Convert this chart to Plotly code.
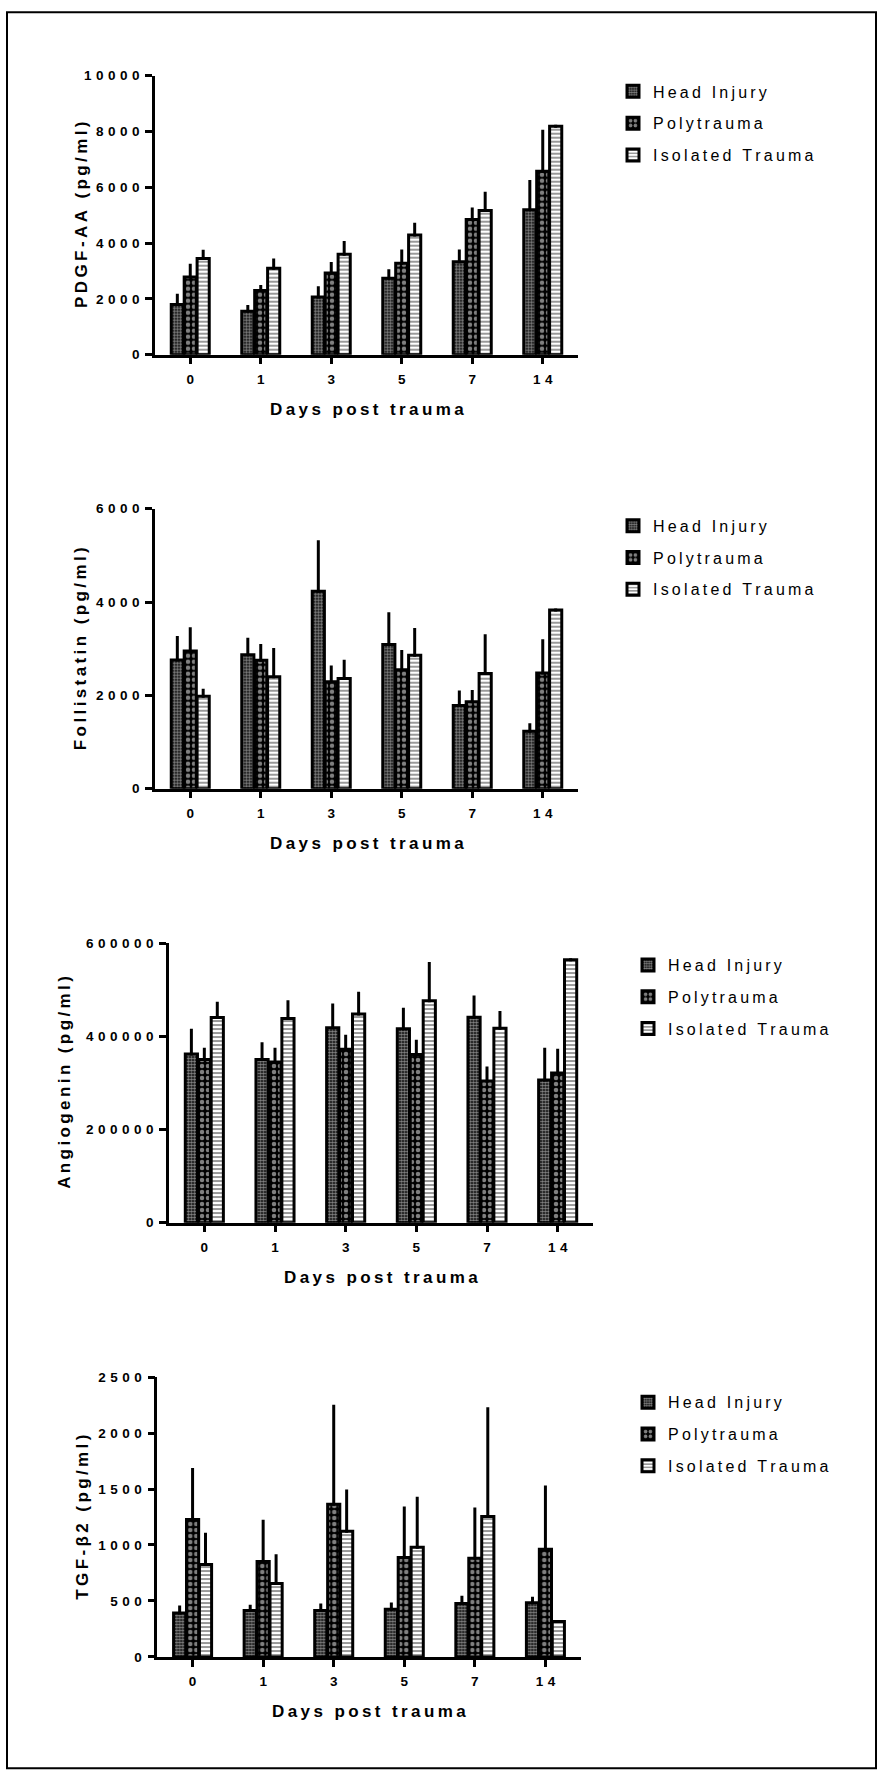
import plotly.graph_objects as go

W, H = 878, 1778

days = ["0", "1", "3", "5", "7", "14"]
series = ["Head Injury", "Polytrauma", "Isolated Trauma"]

# PDGF-AA (pg/ml)
pdgf_hi = [1800, 1560, 2070, 2740, 3330, 5200]
pdgf_hi_err = [330, 170, 330, 270, 390, 1010]
pdgf_pt = [2790, 2300, 2930, 3280, 4850, 6580]
pdgf_pt_err = [415, 150, 340, 440, 370, 1430]
pdgf_it = [3450, 3100, 3600, 4290, 5170, 8190]
pdgf_it_err = [260, 300, 420, 390, 620, 0]
pdgf_ticks = [0, 2000, 4000, 6000, 8000, 10000]

# Follistatin (pg/ml)
foll_hi = [2760, 2870, 4230, 3090, 1780, 1230]
foll_hi_err = [480, 330, 1060, 660, 290, 140]
foll_pt = [2950, 2750, 2290, 2550, 1860, 2480]
foll_pt_err = [480, 320, 320, 390, 220, 690]
foll_it = [1980, 2400, 2360, 2860, 2470, 3830]
foll_it_err = [130, 580, 370, 550, 810, 0]
foll_ticks = [0, 2000, 4000, 6000]

# Angiogenin (pg/ml)
ang_hi = [362000, 350000, 418000, 416000, 441000, 306000]
ang_hi_err = [51000, 34000, 49000, 42000, 43000, 66000]
ang_pt = [350000, 345000, 372000, 361000, 304000, 321000]
ang_pt_err = [22000, 27000, 28000, 28000, 28000, 49000]
ang_it = [440000, 438000, 448000, 476000, 417000, 564000]
ang_it_err = [31000, 36000, 44000, 80000, 34000, 0]
ang_ticks = [0, 200000, 400000, 600000]

# TGF-beta2 (pg/ml)
tgf_hi = [393, 416, 416, 425, 478, 484]
tgf_hi_err = [53, 38, 47, 47, 56, 41]
tgf_pt = [1228, 853, 1364, 888, 882, 962]
tgf_pt_err = [446, 360, 876, 443, 440, 555]
tgf_it = [826, 655, 1122, 980, 1254, 316]
tgf_it_err = [269, 248, 360, 437, 962, 0]
tgf_ticks = [0, 500, 1000, 1500, 2000, 2500]

y_titles = ["PDGF-AA (pg/ml)", "Follistatin (pg/ml)", "Angiogenin (pg/ml)", "TGF-\u03b22 (pg/ml)"]
x_title = "Days post trauma"

panels_data = [
    ([pdgf_hi, pdgf_pt, pdgf_it], [pdgf_hi_err, pdgf_pt_err, pdgf_it_err], pdgf_ticks),
    ([foll_hi, foll_pt, foll_it], [foll_hi_err, foll_pt_err, foll_it_err], foll_ticks),
    ([ang_hi, ang_pt, ang_it], [ang_hi_err, ang_pt_err, ang_it_err], ang_ticks),
    ([tgf_hi, tgf_pt, tgf_it], [tgf_hi_err, tgf_pt_err, tgf_it_err], tgf_ticks),
]

# layout geometry in pixels: x0, x1, y_top, y_zero, y-title x, legend left, legend top
geom = [
    dict(x0=155, x1=578, top=69.3, zero=350.7, ytx=81.7, lx=613, ly=68),
    dict(x0=155, x1=578, top=506, zero=788.3, ytx=80.5, lx=613, ly=506),
    dict(x0=169, x1=593, top=944, zero=1226, ytx=65, lx=628, ly=949),
    dict(x0=157.3, x1=580.7, top=1381.7, zero=1664, ytx=81.7, lx=628, ly=1390),
]

patterns = [
    dict(shape=".", size=3, solidity=0.65, fgcolor="white", bgcolor="black"),
    dict(shape=".", size=6, solidity=0.45, fgcolor="white", bgcolor="black"),
    dict(shape="-", size=4, solidity=0.4, fgcolor="black", bgcolor="white"),
]

FONT = "Liberation Sans, Arial, sans-serif"


def spaced(s, sep="\u2009"):
    return sep.join(s)


fig = go.Figure()
layout = {}
annotations = []

for i, ((vals, errs, ticks), g) in enumerate(zip(panels_data, geom)):
    n = i + 1
    xa = "x" if n == 1 else f"x{n}"
    ya = "y" if n == 1 else f"y{n}"
    lg = "legend" if n == 1 else f"legend{n}"
    for s, (name, v, e, pat) in enumerate(zip(series, vals, errs, patterns)):
        fig.add_trace(go.Bar(
            x=days, y=v, name=spaced(name),
            xaxis=xa, yaxis=ya, legend=lg, legendgroup=f"p{n}s{s}",
            marker=dict(color="white", line=dict(color="black", width=3), pattern=pat),
            error_y=dict(type="data", symmetric=False, array=e, arrayminus=[0] * len(e),
                         color="black", thickness=3, width=1.5),
        ))
    xdom = [g["x0"] / W, g["x1"] / W]
    ydom = [1 - g["zero"] / H, 1 - g["top"] / H]
    axis_common = dict(showline=True, linecolor="black", linewidth=2.5, ticks="outside",
                       ticklen=7, tickwidth=2.5, tickcolor="black", showgrid=False,
                       zeroline=False, fixedrange=True,
                       tickfont=dict(family=FONT, size=13.5, color="black", weight="bold"))
    layout["xaxis" if n == 1 else f"xaxis{n}"] = dict(
        axis_common, domain=xdom, anchor=ya, type="category", range=[-0.5, 5.5],
        tickvals=days, ticktext=[spaced(d, "\u2004") for d in days], ticklabelstandoff=3)
    layout["yaxis" if n == 1 else f"yaxis{n}"] = dict(
        axis_common, domain=ydom, anchor=xa, range=[ticks[0], ticks[-1]],
        tickvals=ticks, ticktext=[spaced(str(t), "\u2004") for t in ticks], ticklabelstandoff=3)
    layout[lg] = dict(x=g["lx"] / W, y=1 - g["ly"] / H, xanchor="left", yanchor="top",
                      font=dict(family=FONT, size=16, color="black"),
                      bgcolor="rgba(0,0,0,0)", tracegroupgap=8, itemclick=False,
                      itemdoubleclick=False)
    annotations.append(dict(text=spaced(y_titles[i]), textangle=-90, xref="paper", yref="paper",
                            x=g["ytx"] / W, y=1 - (g["top"] + g["zero"]) / 2 / H,
                            xanchor="center", yanchor="middle", showarrow=False,
                            font=dict(family=FONT, size=17, color="black", weight="bold")))
    annotations.append(dict(text=spaced(x_title), xref="paper", yref="paper",
                            x=(g["x0"] + g["x1"]) / 2 / W, y=1 - (g["zero"] + 55) / H,
                            xanchor="center", yanchor="middle", showarrow=False,
                            font=dict(family=FONT, size=17, color="black", weight="bold")))

fig.update_layout(
    width=W, height=H, margin=dict(l=0, r=0, t=0, b=0),
    paper_bgcolor="white", plot_bgcolor="white",
    barmode="group", bargap=0.45, bargroupgap=0.06,
    annotations=annotations,
    shapes=[dict(type="rect", xref="paper", yref="paper",
                 x0=7 / W, x1=876 / W, y0=1 - 1776.3 / H, y1=1 - 5.3 / H,
                 line=dict(color="black", width=2), fillcolor="rgba(0,0,0,0)")],
    **layout,
)

fig.write_html("out.html")
